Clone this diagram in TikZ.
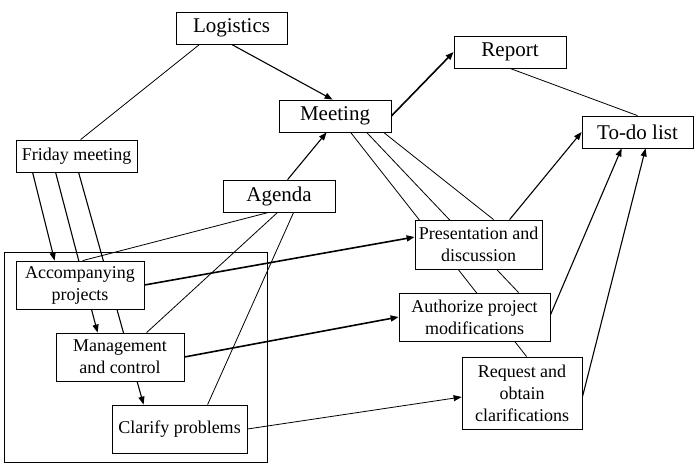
\documentclass[tikz,border=0pt]{standalone}
\usepackage{fontspec}
\setmainfont{Liberation Serif}
\usetikzlibrary{calc,arrows.meta,backgrounds}
\begin{document}
\begin{tikzpicture}[x=1pt,y=-1pt,
  box/.style={draw,line width=0.8pt,fill=white,inner sep=0pt,align=center},
  big/.style={box,font=\fontsize{21}{25}\selectfont},
  small/.style={box,font=\fontsize{18}{22}\selectfont},
  ln/.style={line width=0.8pt},
  arr/.style={line width=1.1pt,-{Triangle[length=8pt,width=6pt]}},
  tarr/.style={line width=1.6pt,-{Triangle[length=8pt,width=6pt]}},
  narr/.style={line width=0.8pt,-{Triangle[length=8pt,width=6pt]}}]
\useasboundingbox (0,0) rectangle (698,469);
\node[big,minimum width=111pt,minimum height=32pt] (log) at (231.5,28) {Logistics};
\node[big,minimum width=112pt,minimum height=32pt] (meet) at (335,116) {Meeting};
\node[big,minimum width=112pt,minimum height=32pt] (rep) at (510,52) {Report};
\node[big,minimum width=111pt,minimum height=32pt] (todo) at (637.5,132) {To-do list};
\node[small,minimum width=121pt,minimum height=32pt] (fri) at (76.5,156) {Friday meeting};
\node[big,minimum width=112pt,minimum height=32pt] (ag) at (279,196) {Agenda};
\node[small,minimum width=128pt,minimum height=48pt] (acc) at (80,285) {Accompanying\\projects};
\node[small,minimum width=128pt,minimum height=48pt] (mgmt) at (120,357) {Management\\and control};
\node[small,minimum width=135pt,minimum height=48pt] (clar) at (179.5,429) {Clarify problems};
\node[small,minimum width=127pt,minimum height=49pt] (pres) at (478.5,244.5) {Presentation and\\discussion};
\node[small,minimum width=151pt,minimum height=48pt] (auth) at (474.5,317) {Authorize project\\modifications};
\node[small,minimum width=120pt,minimum height=72pt] (req) at (522,393) {Request and\\obtain\\clarifications};
\begin{pgfonlayer}{background}
\node[draw,line width=0.8pt,inner sep=0pt,minimum width=263pt,minimum height=210pt] (grp) at (135.5,357) {};
% Logistics
\draw[ln] ($(log.south west)+(24,0)$) -- ($(fri.north west)+(65,0)$);
\draw[arr] ($(log.south west)+(56,0)$) -- ($(meet.north west)+(54,0)$);
% Agenda
\draw[arr] ($(ag.north west)+(65,0)$) -- ($(meet.south west)+(48,0)$);
\draw[ln] ($(ag.south west)+(46,0)$) -- ($(acc.north west)+(67,0)$);
\draw[ln] ($(ag.south west)+(55,0)$) -- ($(mgmt.north west)+(91,0)$);
\draw[ln] ($(ag.south west)+(71,0)$) -- ($(clar.north west)+(96,0)$);
% Meeting
\draw[tarr] (meet.east) -- (rep.west);
\draw[ln] (rep.south) -- (todo.north);
\draw[ln] ($(meet.south west)+(72,0)$) -- ($(req.north west)+(65,0)$);
\draw[ln] ($(meet.south west)+(88,0)$) -- ($(auth.north west)+(120,0)$);
\draw[ln] ($(meet.south west)+(105,0)$) -- ($(pres.north west)+(79,0)$);
% To-do
\draw[arr] ($(pres.north west)+(95,0)$) -- (todo.west);
\draw[arr] ($(auth.east)+(0,-2)$) -- ($(todo.south west)+(40,0)$);
\draw[arr] ($(req.east)+(0,4)$) -- ($(todo.south west)+(64,0)$);
% Group to activities
\draw[tarr] (acc.east) -- ($(pres.west)+(0,-7.5)$);
\draw[tarr] (mgmt.east) -- (auth.west);
\draw[narr] (clar.east) -- ($(req.west)+(0,4)$);
% Friday meeting
\draw[arr] ($(fri.south west)+(17,0)$) -- ($(acc.north west)+(39,0)$);
\draw[arr] ($(fri.south west)+(40,0)$) -- ($(mgmt.north west)+(42,0)$);
\draw[arr] ($(fri.south west)+(63,0)$) -- ($(clar.north west)+(32,0)$);
\end{pgfonlayer}
\end{tikzpicture}
\end{document}
